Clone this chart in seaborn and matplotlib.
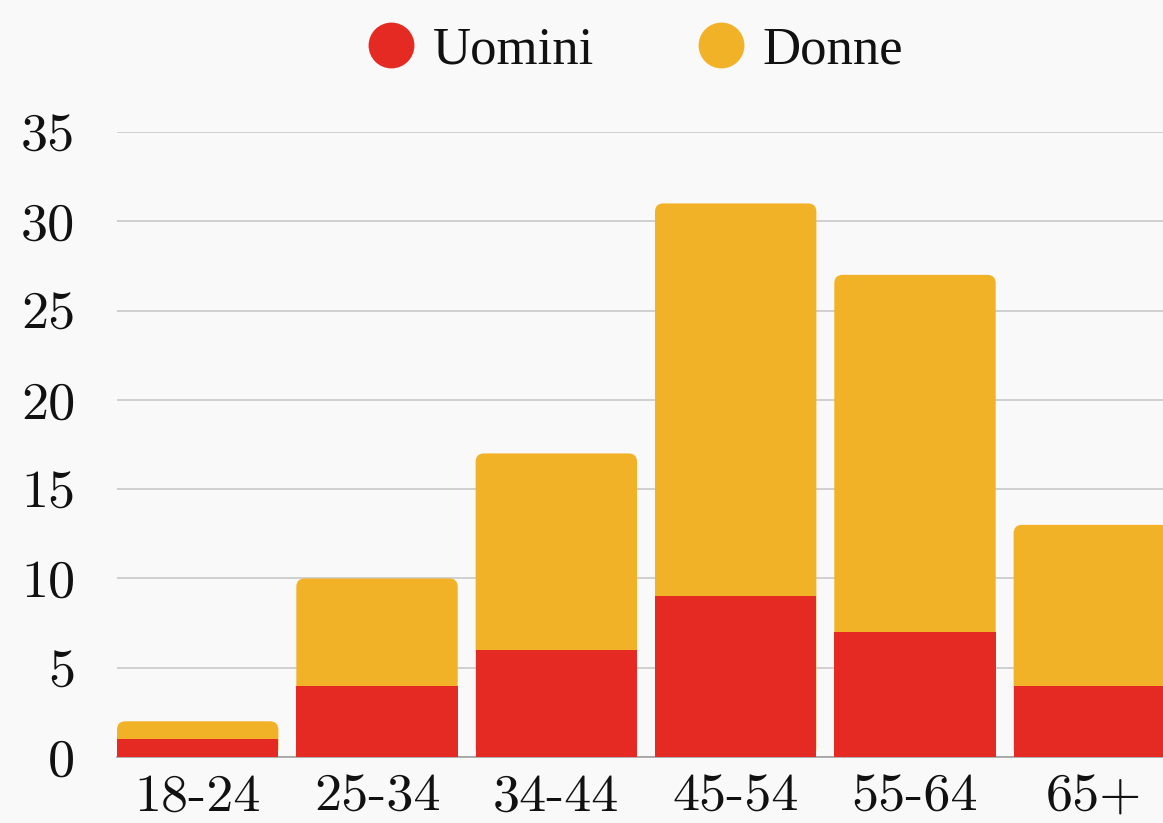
import matplotlib
matplotlib.use("Agg")
import matplotlib.pyplot as plt
import seaborn as sns
import numpy as np
from matplotlib.patches import FancyBboxPatch
from matplotlib.lines import Line2D

# data
categories = ["18-24", "25-34", "34-44", "45-54", "55-64", "65+"]
uomini = [1, 4, 6, 9, 7, 4]
donne = [1, 6, 11, 22, 20, 9]
y_ticks = [0, 5, 10, 15, 20, 25, 30, 35]

RED = "#e42a23"
YELLOW = "#f2b228"
BG = "#f9f9f9"

sns.set_style("white")
plt.rcParams['font.family'] = ['Liberation Serif', 'DejaVu Serif']
plt.rcParams['axes.formatter.use_mathtext'] = True

totals = [u + d for u, d in zip(uomini, donne)]

fig = plt.figure(figsize=(11.63, 8.23), dpi=100, facecolor=BG)
ax = fig.add_axes([117 / 1163, 1 - 757 / 823, 1 - 117 / 1163, (757 - 132) / 823])
ax.set_facecolor(BG)

# totals first (Donne on top), then Uomini over the lower part
sns.barplot(x=categories, y=totals, color=YELLOW, width=0.9, saturation=1, ax=ax,
            zorder=2, linewidth=0, edgecolor="none")
sns.barplot(x=categories, y=uomini, color=RED, width=0.9, saturation=1, ax=ax,
            zorder=3, linewidth=0, edgecolor="none")

# rounded tops on the stacked bars
n = len(categories)
for p in list(ax.patches[:n]):
    x0, y0 = p.get_x(), p.get_y()
    w, h = p.get_width(), p.get_height()
    rb = FancyBboxPatch((x0, y0), w, h,
                        boxstyle="round,pad=0,rounding_size=0.047",
                        mutation_aspect=10.0,
                        facecolor=YELLOW, edgecolor="none", linewidth=0, zorder=2)
    p.remove()
    ax.add_patch(rb)

ax.set_xlim(-0.45, 5.383)
ax.set_ylim(0, 35)
ax.set_yticks(y_ticks)
ax.set_yticklabels([str(t) for t in y_ticks])
ax.yaxis.grid(True, color="#c4c4c4", linewidth=1.1, zorder=0)
ax.set_axisbelow(True)
ax.set_xlabel("")
ax.set_ylabel("")

for side in ["top", "right", "left"]:
    ax.spines[side].set_visible(False)
ax.spines["bottom"].set_color("#9a9a9a")
ax.spines["bottom"].set_linewidth(1.1)

ax.tick_params(axis="both", length=0, labelsize=39)
ax.tick_params(axis="y", pad=30)
ax.tick_params(axis="x", pad=12)
for lab in ax.get_xticklabels() + ax.get_yticklabels():
    lab.set_fontfamily("cmr10")
    lab.set_color("#111111")

handles = [
    Line2D([], [], marker="o", linestyle="none", markersize=33, markerfacecolor=RED,
           markeredgecolor="none", label="Uomini"),
    Line2D([], [], marker="o", linestyle="none", markersize=33, markerfacecolor=YELLOW,
           markeredgecolor="none", label="Donne"),
]
fig.legend(handles=handles, loc="center", bbox_to_anchor=(0.545, 1 - 50 / 823), ncol=2,
           frameon=False, fontsize=38, handletextpad=0.3, columnspacing=1.9,
           handlelength=1.0, labelcolor="#111111")

fig.savefig("out.png", dpi=100, facecolor=BG)
